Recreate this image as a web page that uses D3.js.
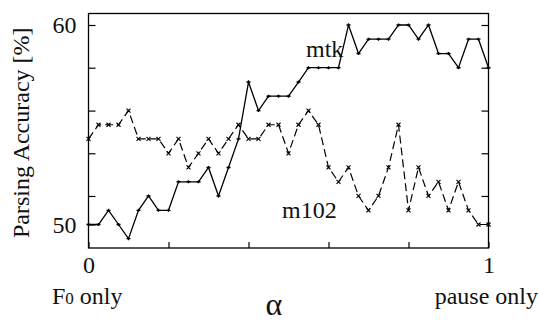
<!DOCTYPE html>
<html>
<head>
<meta charset="utf-8">
<script src="https://cdn.jsdelivr.net/npm/d3@7"></script>
</head>
<body style="margin:0">
<script>
// alpha goes 0 .. 1 in steps of 0.025
const alphas = d3.range(41).map(i => i / 40)

const mtk = [50.00, 50.00, 50.71, 50.00, 49.29, 50.71, 51.43, 50.71, 50.71, 52.14,
  52.14, 52.14, 52.86, 51.43, 52.86, 54.29, 57.14, 55.71, 56.43, 56.43,
  56.43, 57.14, 57.86, 57.86, 57.86, 57.86, 60.00, 58.57, 59.29, 59.29,
  59.29, 60.00, 60.00, 59.29, 60.00, 58.57, 58.57, 57.86, 59.29, 59.29, 57.86]

const m102 = [54.29, 55.00, 55.00, 55.00, 55.71, 54.29, 54.29, 54.29, 53.57, 54.29,
  52.86, 53.57, 54.29, 53.57, 54.29, 55.00, 54.29, 54.29, 55.00, 55.00,
  53.57, 55.00, 55.71, 55.00, 52.86, 52.14, 52.86, 51.43, 50.71, 51.43,
  52.86, 55.00, 50.71, 52.86, 51.43, 52.14, 50.71, 52.14, 50.71, 50.00, 50.00]

const yTicks = [60, 57.86, 55.71, 53.57, 51.43, 50]
const yTickLabels = ['60', '', '', '', '', '50']
const xTicks = [0, 0.2, 0.4, 0.6, 0.8, 1]
const xTickLabels = ['0', '', '', '', '', '1']

const WIDTH = 539
const HEIGHT = 322
const X0 = 88.5, X1 = 488.5, Y0 = 13.5, Y1 = 248
const FONT = "'Liberation Serif'"

const svg = d3.select('body')
  .append('svg')
  .attr('width', WIDTH)
  .attr('height', HEIGHT)
  .style('display', 'block')

const x = d3.scaleLinear().domain([0, 1]).range([X0, X1])
const y = d3.scaleLinear().domain([50, 60]).range([224.5, 25])

// frame
svg.append('rect')
  .attr('x', X0).attr('y', Y0)
  .attr('width', X1 - X0).attr('height', Y1 - Y0)
  .attr('fill', 'none').attr('stroke', '#000').attr('stroke-width', 1.3)

// inward ticks on all sides
const yAxisL = d3.axisLeft(y).tickValues(yTicks).tickSizeInner(-7).tickSizeOuter(0)
  .tickFormat((d, i) => yTickLabels[i]).tickPadding(12)
const gl = svg.append('g').attr('transform', `translate(${X0},0)`).call(yAxisL)

const yAxisR = d3.axisRight(y).tickValues(yTicks.slice(0, 5)).tickSizeInner(-7).tickSizeOuter(0)
  .tickFormat('')
const gr = svg.append('g').attr('transform', `translate(${X1},0)`).call(yAxisR)

const xAxis = d3.axisBottom(x).tickValues(xTicks).tickSizeInner(-6).tickSizeOuter(0)
  .tickFormat((d, i) => xTickLabels[i]).tickPadding(8)
const gb = svg.append('g').attr('transform', `translate(0,${Y1})`).call(xAxis)

;[gl, gr, gb].forEach(g => {
  g.attr('font-family', FONT)
  g.select('.domain').remove()
  g.selectAll('line').attr('stroke', '#000').attr('stroke-width', 1.2)
  g.selectAll('text').attr('fill', '#111').attr('font-size', 24).attr('font-family', FONT)
})

const line = d3.line().x((d, i) => x(alphas[i])).y(d => y(d))

svg.append('path')
  .datum(mtk)
  .attr('d', line)
  .attr('fill', 'none')
  .attr('stroke', '#000')
  .attr('stroke-width', 1.3)

svg.append('path')
  .datum(m102)
  .attr('d', line)
  .attr('fill', 'none')
  .attr('stroke', '#000')
  .attr('stroke-width', 1.2)
  .attr('stroke-dasharray', '8,4')

// markers
svg.append('g').selectAll('path')
  .data(mtk)
  .join('path')
  .attr('d', (d, i) => {
    const cx = x(alphas[i]), cy = y(d)
    return `M${cx - 2},${cy}h4M${cx},${cy - 1.5}v3`
  })
  .attr('stroke', '#000').attr('stroke-width', 1.4)

svg.append('g').selectAll('path')
  .data(m102)
  .join('path')
  .attr('d', (d, i) => {
    const cx = x(alphas[i]), cy = y(d)
    return `M${cx - 2},${cy - 2}l4,4M${cx - 2},${cy + 2}l4,-4`
  })
  .attr('stroke', '#000').attr('stroke-width', 1.1)

// labels
function label(px, py, size, txt, anchor) {
  return svg.append('text')
    .attr('x', px).attr('y', py)
    .attr('font-size', size)
    .attr('font-family', FONT)
    .attr('text-anchor', anchor || 'start')
    .attr('fill', '#111')
    .text(txt)
}

label(0, 0, 24, 'Parsing Accuracy [%]', 'middle')
  .attr('transform', `translate(29,${(Y0 + Y1) / 2 + 2}) rotate(-90)`)

label(306, 57, 24, 'mtk')
label(282, 218, 24, 'm102')

const f0 = label(52, 304, 24, '')
f0.append('tspan').text('F')
f0.append('tspan').attr('font-size', 17).text('0')
f0.append('tspan').text(' only')

label(538, 304, 24, 'pause only', 'end')
label(274, 315, 32, 'α', 'middle')
</script>
</body>
</html>
